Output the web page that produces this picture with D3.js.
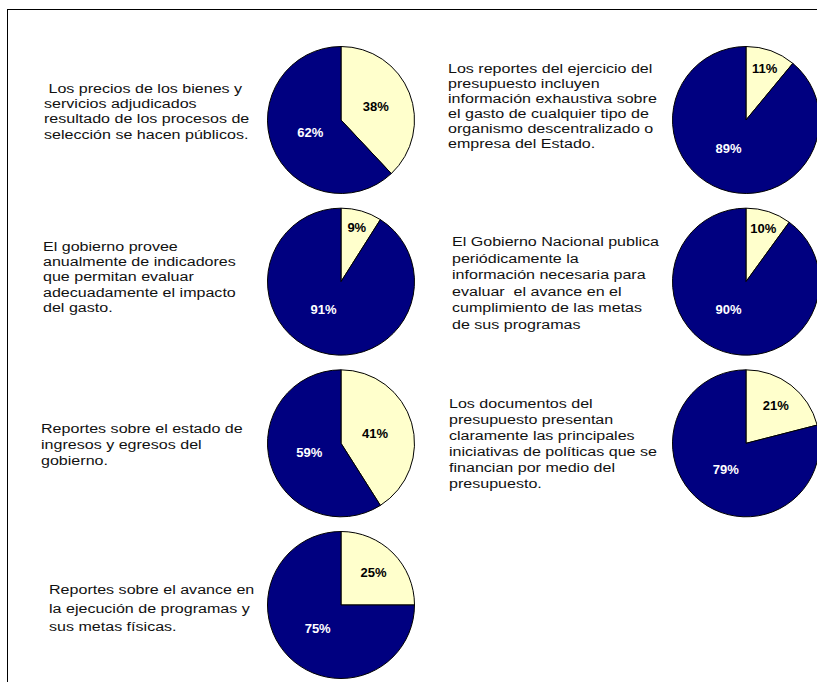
<!DOCTYPE html>
<html><head><meta charset="utf-8">
<script src="https://cdn.jsdelivr.net/npm/d3@7/dist/d3.min.js"></script>
<style>
body{margin:0;background:#fff}
svg{display:block}
text{font-family:Arial,"Liberation Sans",Helvetica,sans-serif}
</style>
</head><body>
<svg id="c" width="817" height="682"></svg>
<script>
// ---- data ----
const questions = [
  [" Los precios de los bienes y", "servicios adjudicados", "resultado de los procesos de", "selección se hacen públicos."],
  ["Los reportes del ejercicio del", "presupuesto incluyen", "información exhaustiva sobre", "el gasto de cualquier tipo de", "organismo descentralizado o", "empresa del Estado."],
  ["El gobierno provee", "anualmente de indicadores", "que permitan evaluar", "adecuadamente el impacto", "del gasto."],
  ["El Gobierno Nacional publica", "periódicamente la", "información necesaria para", "evaluar  el avance en el", "cumplimiento de las metas", "de sus programas"],
  ["Reportes sobre el estado de", "ingresos y egresos del", "gobierno."],
  ["Los documentos del", "presupuesto presentan", "claramente las principales", "iniciativas de políticas que se", "financian por medio del", "presupuesto."],
  ["Reportes sobre el avance en", "la ejecución de programas y", "sus metas físicas."]
];
const creamShare = [38, 11, 9, 10, 41, 21, 25];
const navyShare  = [62, 89, 91, 90, 59, 79, 75];
const sliceKeys = ["cream", "navy"];

// ---- layout (not data) ----
const textLayout = [
  {x: 44, lh: 15.2, dy: -9},
  {x: 448, lh: 15.0, dy: -14},
  {x: 43, lh: 15.3, dy: -5},
  {x: 452, lh: 16.5, dy: 1},
  {x: 41, lh: 16.0, dy: 1},
  {x: 449, lh: 16.0, dy: 0},
  {x: 49, lh: 18.5, dy: 3}
];
const TEXT_SIZE = 13.5, TEXT_SX = 1.19;

const svg = d3.select("#c");
const W = 817, H = 682;

svg.append("rect").attr("x", 7.5).attr("y", 9.5)
  .attr("width", W + 50).attr("height", H + 50)
  .attr("fill", "#fff").attr("stroke", "#000").attr("stroke-width", 1);

const colX = d3.scalePoint().domain([0, 1]).range([341, 746]);
const rowY = d3.scaleLinear().domain([0, 3]).range([120, 605]);
const R = 73.5;
const color = d3.scaleOrdinal().domain(sliceKeys).range(["#FFFFCC", "#000080"]);
const labelColor = d3.scaleOrdinal().domain(sliceKeys).range(["#000", "#fff"]);

const pie = d3.pie().sort(null).value(d => d.v);
const arc = d3.arc().innerRadius(0).outerRadius(R);
const deg = Math.PI / 180;

questions.forEach((lines, i) => {
  const cx = colX(i % 2), cy = rowY(Math.floor(i / 2));
  const slices = [{k: "cream", v: creamShare[i]}, {k: "navy", v: navyShare[i]}];
  const g = svg.append("g").attr("transform", `translate(${cx},${cy})`);
  const arcs = pie(slices);
  g.selectAll("path").data(arcs).join("path")
    .attr("d", arc)
    .attr("fill", d => color(d.data.k))
    .attr("stroke", "#000").attr("stroke-width", 1);

  g.selectAll("text.lbl").data(arcs).join("text")
    .attr("class", "lbl")
    .attr("text-anchor", "middle")
    .attr("dy", "0.35em")
    .attr("font-size", 13).attr("font-weight", "bold")
    .attr("fill", d => labelColor(d.data.k))
    .attr("transform", d => {
      const total = d3.sum(slices, s => s.v);
      const p = d.data.v / total;
      let a = (d.startAngle + d.endAngle) / 2, r;
      if (d.data.k === "cream") {
        r = R * (0.85 - 0.9 * p);
      } else {
        a = Math.max(212 * deg, Math.min(256 * deg, a));
        r = 33;
      }
      return `translate(${r * Math.sin(a)},${-r * Math.cos(a)})`;
    })
    .text(d => d.data.v + "%");

  const L = textLayout[i];
  const n = lines.length;
  const t = svg.append("text")
    .attr("transform", `translate(${L.x},0) scale(${TEXT_SX},1)`)
    .attr("font-size", TEXT_SIZE).attr("fill", "#111")
    .style("white-space", "pre");
  lines.forEach((ln, j) => {
    t.append("tspan")
      .attr("x", 0)
      .attr("y", cy + L.dy + (j - (n - 1) / 2) * L.lh)
      .attr("dy", "0.35em")
      .text(ln);
  });
});
</script>
</body></html>
